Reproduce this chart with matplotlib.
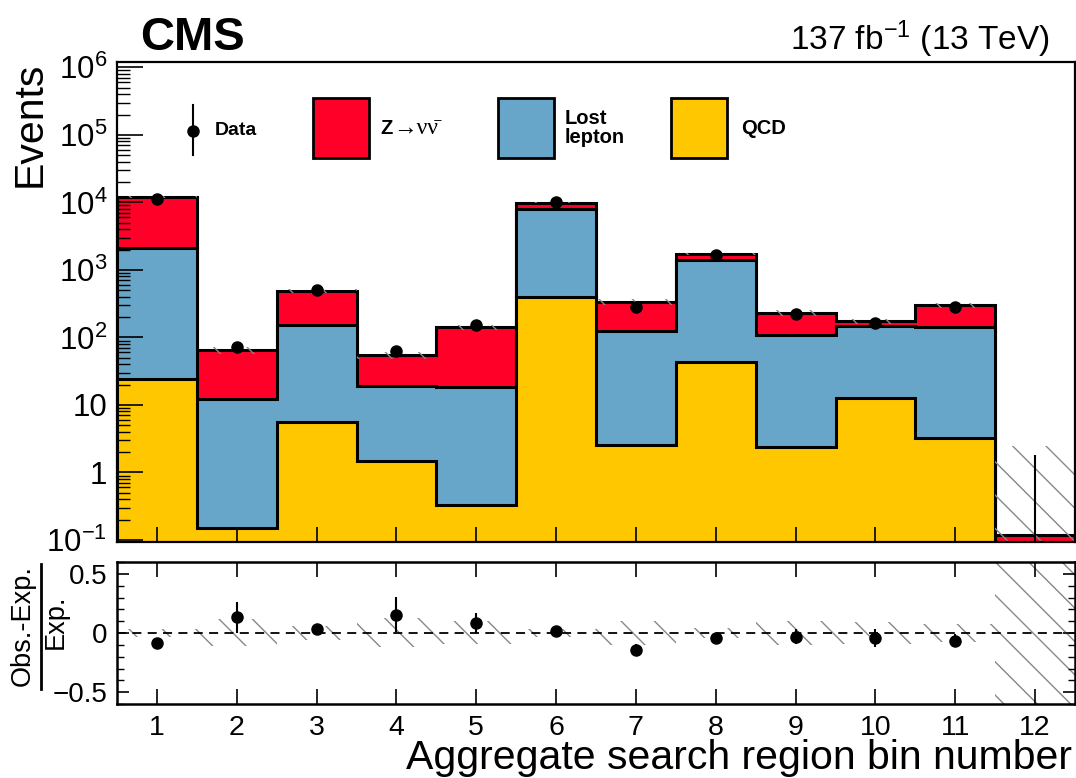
import numpy as np
import matplotlib
matplotlib.use("Agg")
import matplotlib.pyplot as plt
from matplotlib.ticker import FixedLocator, FixedFormatter, LogLocator, MultipleLocator, NullFormatter
from matplotlib.patches import Rectangle
from matplotlib.lines import Line2D

plt.rcParams['font.family'] = ['Liberation Sans', 'DejaVu Sans']
plt.rcParams['mathtext.fontset'] = 'custom'
plt.rcParams['mathtext.rm'] = 'Liberation Sans'
plt.rcParams['mathtext.it'] = 'Liberation Sans:italic'
plt.rcParams['mathtext.bf'] = 'Liberation Sans:bold'
plt.rcParams['hatch.linewidth'] = 1.0

# ---- data ----
bins = np.arange(1, 13)
qcd = np.array([24.3, 0.149, 5.66, 1.50, 0.33, 394, 2.56, 43.8, 2.41, 12.6, 3.21, 0.0])
lost_lepton = np.array([2072, 12.15, 147.3, 17.6, 17.97, 7536, 122.4, 1339, 106.6, 135.4, 141.3, 0.0])
znunu = np.array([10100, 52.2, 336, 35.4, 122.7, 2010, 207, 330, 119, 25, 155.5, 0.119])
data = np.array([11160, 73, 505, 63, 153, 10120, 284, 1640, 221, 166, 280, 0])
# relative uncertainty of the prediction (up / down)
unc_up = np.array([0.035, 0.12, 0.06, 0.13, 0.10, 0.03, 0.10, 0.04, 0.10, 0.09, 0.08, 20.0])
unc_dn = np.array([0.035, 0.11, 0.06, 0.12, 0.09, 0.03, 0.10, 0.04, 0.10, 0.09, 0.08, 1.0])
zero_count_up = 1.84  # upper error for an empty bin

col_z = '#FF0029'
col_ll = '#68A6C9'
col_qcd = '#FFC700'
col_hatch = '#888888'

edges = np.arange(0.5, 13.0, 1.0)
floor = 1e-3

total = qcd + lost_lepton + znunu

fig = plt.figure(figsize=(10.76, 7.78), dpi=100)
ax = fig.add_axes([117/1076, 1-542/778, 958/1076, 480/778])
rax = fig.add_axes([117/1076, 1-704/778, 958/1076, 142/778])

# ---- main panel: stacked histograms ----
ax.set_yscale('log')
levels = [(total, col_z), (qcd + lost_lepton, col_ll), (qcd, col_qcd)]
for lev, col in levels:
    v = np.maximum(lev, floor)
    ax.stairs(v, edges, baseline=floor, fill=True, facecolor=col, edgecolor='none')
    ax.stairs(v, edges, baseline=floor, fill=False, color='black', lw=2.2)

# uncertainty band
hi = total * (1 + unc_up)
lo = np.maximum(total * (1 - unc_dn), floor)
ax.stairs(hi, edges, baseline=lo, fill=True, facecolor='none', edgecolor=col_hatch,
          hatch='\\', lw=0)

# data
has = data > 0
ax.errorbar(bins[has], data[has], yerr=np.sqrt(data[has]), fmt='o', color='black',
            ms=8, elinewidth=1.5, capsize=0, zorder=5)
for b, d in zip(bins[~has], data[~has]):
    ax.vlines(b, floor, zero_count_up, color='black', lw=1.5, zorder=5)

ax.set_xlim(0.5, 12.5)
ax.set_ylim(0.0934, 1.2e6)
ax.yaxis.set_major_locator(FixedLocator([1e-1, 1, 10, 1e2, 1e3, 1e4, 1e5, 1e6]))
ax.yaxis.set_major_formatter(FixedFormatter([r'$10^{-1}$', '1', '10', r'$10^{2}$', r'$10^{3}$',
                                              r'$10^{4}$', r'$10^{5}$', r'$10^{6}$']))
ax.yaxis.set_minor_locator(LogLocator(base=10, subs=np.arange(2, 10), numticks=30))
ax.yaxis.set_minor_formatter(NullFormatter())
ax.xaxis.set_major_locator(FixedLocator(bins))
ax.tick_params(axis='y', which='major', direction='in', length=19, width=1.2,
               labelsize=22.5, pad=7, left=True, right=False)
ax.tick_params(axis='y', which='minor', direction='in', length=9.5, width=1.0, right=False)
ax.tick_params(axis='x', which='major', direction='in', length=11, width=1.2,
               labelbottom=False, top=False)
for s in ax.spines.values():
    s.set_linewidth(1.6)
    s.set_zorder(10)

# legend
ax.plot([0.0793], [0.856], 'o', color='black', ms=8, transform=ax.transAxes)
ax.plot([0.0793, 0.0793], [0.806, 0.91], color='black', lw=1.5, transform=ax.transAxes)
ax.text(0.1023, 0.8575, 'Data', transform=ax.transAxes, fontsize=14, fontweight='bold', va='center')
for x0, col in [(0.2046, col_z), (0.3977, col_ll), (0.578, col_qcd)]:
    ax.add_patch(Rectangle((x0, 0.80), 0.0585, 0.125, transform=ax.transAxes,
                           facecolor=col, edgecolor='black', lw=2, zorder=6))
ax.text(0.2745, 0.8625, 'Z', transform=ax.transAxes,
        fontsize=14.5, fontweight='bold', va='center')
ax.text(0.2885, 0.8625, '\u2192\u03bd\u03bd\u0304', transform=ax.transAxes,
        fontsize=17, family=['Liberation Serif', 'DejaVu Serif'], va='center')
ax.text(0.4676, 0.8625, 'Lost\nlepton', transform=ax.transAxes, fontsize=14.5,
        fontweight='bold', va='center', linespacing=1.05)
ax.text(0.651, 0.8625, 'QCD', transform=ax.transAxes, fontsize=14.5, fontweight='bold', va='center')

# ---- ratio panel ----
rax.stairs(unc_up, edges, baseline=-unc_dn, fill=True, facecolor='none', edgecolor=col_hatch,
           hatch='\\', lw=0)
rax.axhline(0, color='black', lw=1.3, ls=(0, (5, 3.5)))
ratio = data[has] / total[has] - 1
ratio_err = np.sqrt(data[has]) / total[has]
rax.errorbar(bins[has], ratio, yerr=ratio_err, fmt='o', color='black', ms=8,
             elinewidth=1.5, capsize=0, zorder=5)
rax.set_xlim(0.5, 12.5)
rax.set_ylim(-0.6, 0.6)
rax.xaxis.set_major_locator(FixedLocator(bins))
rax.yaxis.set_major_locator(FixedLocator([-0.5, 0, 0.5]))
rax.yaxis.set_major_formatter(FixedFormatter(['\u22120.5', '0', '0.5']))
rax.yaxis.set_minor_locator(MultipleLocator(0.1))
rax.tick_params(axis='x', which='major', direction='in', length=10.5, width=1.2,
                top=True, bottom=True, labelsize=20.5, pad=8)
rax.tick_params(axis='y', which='major', direction='in', length=8.5, width=1.2,
                left=True, right=True, labelsize=20, pad=7)
rax.tick_params(axis='y', which='minor', direction='in', length=5, width=1.0,
                left=True, right=True)
rax.tick_params(axis='x', which='minor', bottom=False, top=False)
for s in rax.spines.values():
    s.set_linewidth(1.8)
    s.set_zorder(10)

# ---- texts ----
fig.text(30/1076, 1-62/778, 'Events', rotation=90, ha='center', va='top', fontsize=29.5)
fig.text(140/1076, 1-50/778, 'CMS', fontsize=34, fontweight='bold', va='baseline')
fig.text(1050/1076, 1-50/778, r'137 fb$^{-1}$ (13 TeV)', ha='right', va='baseline', fontsize=24)
fig.text(1072/1076, 1-769/778, 'Aggregate search region bin number', ha='right',
         va='baseline', fontsize=29.5)
fig.text(23/1076, 1-625/778, 'Obs.-Exp.', rotation=90, ha='center', va='center', fontsize=19.5)
fig.add_artist(Line2D([41/1076, 41/1076], [1-564/778, 1-689/778], transform=fig.transFigure,
                      color='black', lw=2))
fig.text(56/1076, 1-622/778, 'Exp.', rotation=90, ha='center', va='center', fontsize=19.5)

fig.savefig('out.png', dpi=100)
